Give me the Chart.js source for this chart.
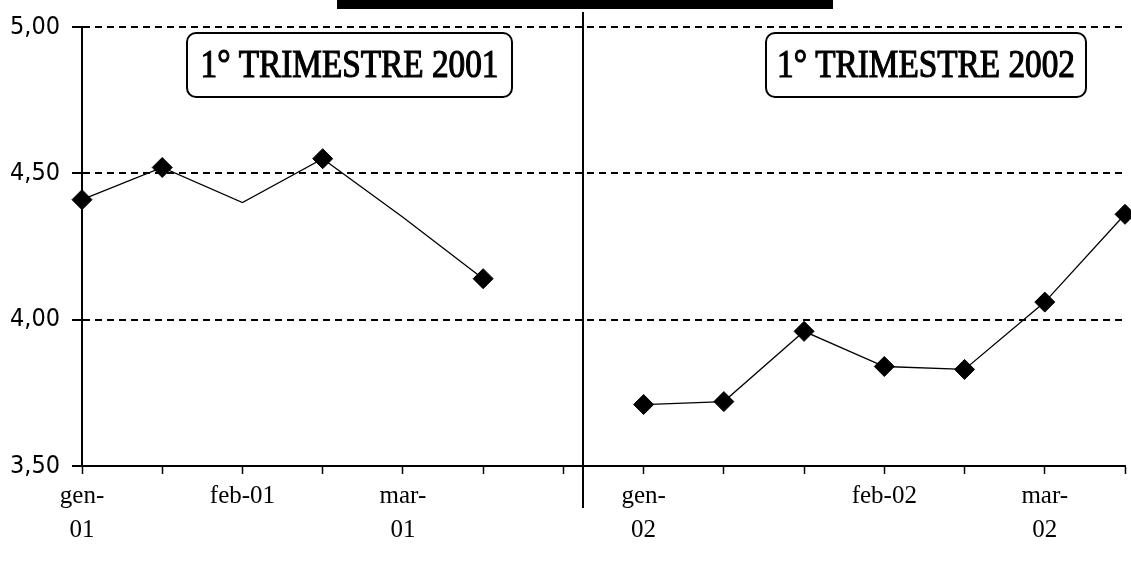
<!DOCTYPE html>
<html>
<head>
<meta charset="utf-8">
<script src="https://cdn.jsdelivr.net/npm/chart.js@4.4.1/dist/chart.umd.min.js"></script>
<style>
  html, body { margin: 0; padding: 0; background: #fff; }
  #wrap { width: 1131px; height: 563px; position: relative; }
</style>
</head>
<body>
<div id="wrap"><canvas id="myChart"></canvas></div>
<script>
// half-month ticks, labels only on some of them
const categories = [['gen-', '01'], '', 'feb-01', '', ['mar-', '01'], '', '',
    ['gen-', '02'], '', '', 'feb-02', '', ['mar-', '02'], ''];
const values = [4.41, 4.52, 4.40, 4.55, 4.35, 4.14, null,
    3.71, 3.72, 3.96, 3.84, 3.83, 4.06, 4.36];
const yTicks = [3.5, 4.0, 4.5, 5.0];
const boxTitles = ['1° TRIMESTRE 2001', '1° TRIMESTRE 2002'];

const noMarker = [2, 4];

const decorations = {
    id: 'decorations',
    afterDraw(chart) {
        const c = chart.ctx;
        const x = chart.scales.x;
        c.save();
        // black bar cut off at the top
        c.fillStyle = '#000';
        c.fillRect(337, 0, 496, 9);

        // divider between the two quarters
        const step = x.getPixelForValue(7) - x.getPixelForValue(6);
        const dx = Math.round(x.getPixelForValue(6) + step * 0.24);
        c.strokeStyle = '#000';
        c.lineWidth = 2;
        c.beginPath();
        c.moveTo(dx, 12);
        c.lineTo(dx, 508);
        c.stroke();

        // framed titles
        const boxes = [[187, 33, 325, 64], [766, 33, 320, 64]];
        boxes.forEach((b, i) => {
            c.beginPath();
            c.roundRect(b[0], b[1], b[2], b[3], 9);
            c.fillStyle = '#fff';
            c.fill();
            c.lineWidth = 2;
            c.strokeStyle = '#000';
            c.stroke();

            c.save();
            c.font = '30px "Liberation Serif", "DejaVu Serif", serif';
            const w = c.measureText(boxTitles[i]).width;
            c.translate(b[0] + b[2] / 2, b[1] + b[3] / 2 + 2);
            c.scale(298 / w, 1.3);
            c.fillStyle = '#000';
            c.strokeStyle = '#000';
            c.lineWidth = 0.9;
            c.textAlign = 'center';
            c.textBaseline = 'middle';
            c.fillText(boxTitles[i], 0, 0);
            c.strokeText(boxTitles[i], 0, 0);
            c.restore();
        });
        c.restore();
    }
};

const ctx = document.getElementById('myChart').getContext('2d');

const myChart = new Chart(ctx, {
    type: 'line',
    data: {
        labels: categories,
        datasets: [{
            label: 'valori',
            data: values,
            borderColor: '#000',
            borderWidth: 1.3,
            backgroundColor: '#000',
            pointStyle: 'rectRot',
            pointRadius: c => noMarker.includes(c.dataIndex) ? 0 : 10,
            pointBorderWidth: 1,
            pointBackgroundColor: '#000',
            pointBorderColor: '#000',
            spanGaps: false,
            tension: 0
        }]
    },
    options: {
        responsive: true,
        maintainAspectRatio: false,
        animation: false,
        layout: { autoPadding: false, padding: { top: 25, right: 3, left: 0, bottom: 0 } },
        plugins: {
            legend: { display: false },
            tooltip: { enabled: false }
        },
        scales: {
            x: {
                type: 'category',
                offset: false,
                afterFit: s => { s.height = 97; },
                border: { display: true, color: '#000', width: 2 },
                grid: {
                    drawOnChartArea: false,
                    drawTicks: true,
                    tickLength: 8,
                    tickColor: '#000',
                    tickWidth: 1.5
                },
                ticks: {
                    autoSkip: false,
                    maxRotation: 0,
                    padding: 6,
                    color: '#000',
                    font: { family: '"Liberation Serif", "DejaVu Serif", serif', size: 25, lineHeight: 1.35 }
                }
            },
            y: {
                min: 3.5,
                max: 5,
                afterFit: s => { s.width = 82; },
                afterBuildTicks: s => { s.ticks = yTicks.map(v => ({ value: v })); },
                border: { display: true, color: '#000', width: 2, dash: [7, 5] },
                grid: {
                    color: c => (c.tick && c.tick.value === 3.5) ? 'rgba(0,0,0,0)' : '#000',
                    lineWidth: 2,
                    drawTicks: true,
                    tickLength: 10,
                    tickColor: '#000',
                    tickWidth: 2,
                    tickBorderDash: []
                },
                ticks: {
                    padding: 12,
                    color: '#000',
                    font: { family: '"DejaVu Sans Condensed", "DejaVu Sans", sans-serif', size: 25 },
                    callback: v => v.toFixed(2).replace('.', ',')
                }
            }
        }
    },
    plugins: [decorations]
});
</script>
</body>
</html>
